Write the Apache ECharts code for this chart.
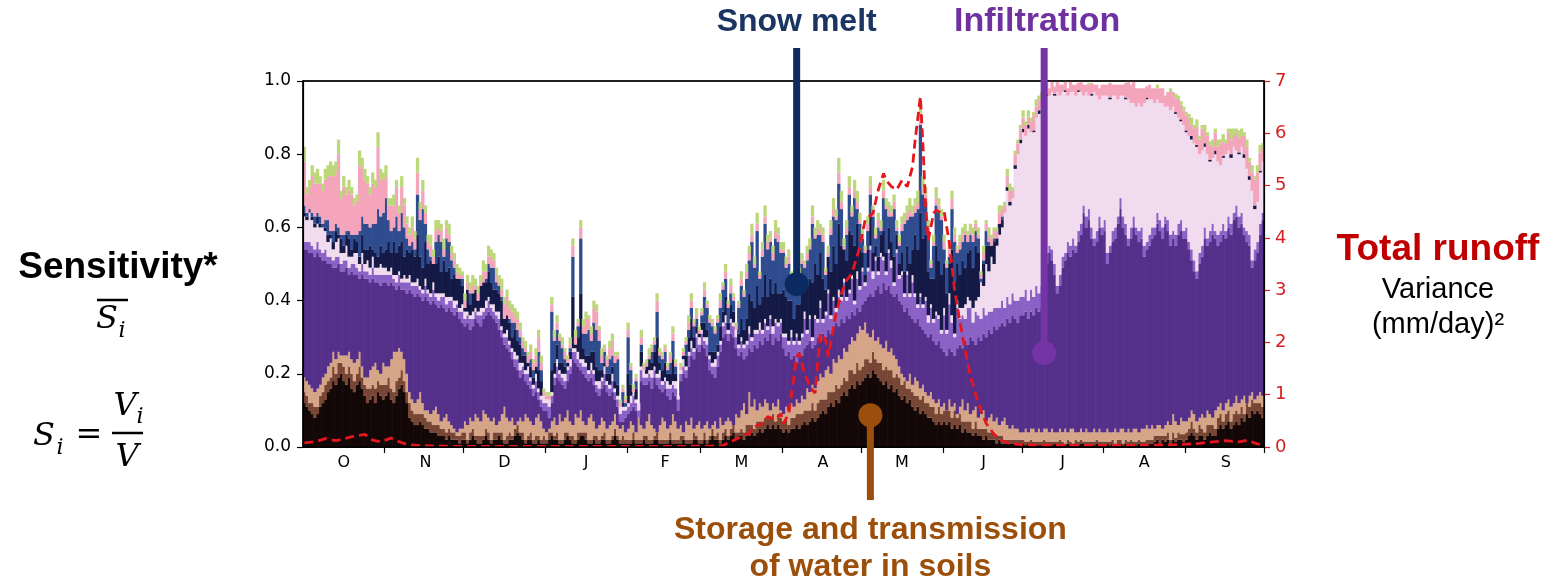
<!DOCTYPE html>
<html>
<head>
<meta charset="utf-8">
<script src="https://cdn.jsdelivr.net/npm/echarts@6/dist/echarts.min.js"></script>
<style>
html,body{margin:0;padding:0;background:#fff;}
#chart{width:1551px;height:583px;}
</style>
</head>
<body>
<div id="chart"></div>
<script>
// ---------- tick labels / categories ----------
const monthLetters = ['O','N','D','J','F','M','A','M','J','J','A','S'];
const monthLengths = [31,30,31,31,28,31,30,31,30,31,31,30];
const leftTicks = [0, 0.2, 0.4, 0.6, 0.8, 1.0];
const rightTicks = [0,1,2,3,4,5,6,7];

// ---------- sensitivity layers (hundredths), one value per day, Oct 1 .. Sep 30 ----------
// black (storage) : cumulative top
const blackTop = [
/*Oct*/12,11,10,9,8,9,11,12,13,15,16,18,17,19,20,18,17,19,16,15,17,18,16,14,12,13,14,12,15,14,13,
/*Nov*/14,15,13,12,14,16,17,15,12,8,7,6,6,7,6,5,5,4,4,4,3,3,3,2,3,2,2,2,1,2,
/*Dec*/2,1,2,3,2,1,1,2,3,2,1,2,2,3,2,1,1,2,2,3,4,3,2,1,2,2,1,1,2,1,1,
/*Jan*/1,2,3,2,2,1,1,2,3,2,1,1,2,3,3,2,1,1,2,1,1,2,2,1,1,2,3,2,1,1,1,
/*Feb*/1,1,2,1,1,1,2,1,1,1,2,2,1,1,1,1,2,1,1,1,1,2,1,1,1,2,2,1,
/*Mar*/1,2,1,2,3,2,2,1,2,3,2,3,4,2,3,3,2,4,3,4,3,4,5,4,5,6,5,6,5,6,5,
/*Apr*/4,5,4,5,5,6,5,6,7,6,7,8,7,8,9,10,9,11,12,11,13,12,14,15,14,16,17,16,18,17,
/*May*/18,19,20,19,21,20,19,18,17,18,16,17,15,16,14,13,14,12,13,11,10,11,9,10,9,8,8,7,6,7,6,
/*Jun*/7,6,7,5,6,5,6,4,5,4,4,3,4,3,3,2,3,2,2,2,1,2,1,1,1,1,1,1,1,1,
/*Jul*/1,0.5,1,1,0.5,1,0.5,0.5,1,1,0.5,0.5,1,0.5,1,0.5,0.5,1,0.5,0.5,1,0.5,1,1,0.5,0.5,1,0.5,1,0.5,1,
/*Aug*/0.5,1,0.5,1,0.5,1,1,0.5,1,0.5,1,1,0.5,1,1,0.5,1,1,1,1.5,2,1,2,1.5,2,1,2,1.5,2,2,1.5,
/*Sep*/2,3,4,3,2,3,3,2,3,4,3,3,5,6,5,6,7,5,6,7,6,8,7,9,8,10,9,10,9,8
];
// dark brown band (thickness)
const brownBand = [
/*Oct*/3,3,2,3,3,2,3,3,4,3,3,4,3,4,3,4,3,3,4,3,3,4,3,3,4,3,3,4,3,3,4,
/*Nov*/3,4,3,3,4,3,4,3,3,4,3,3,3,2,3,3,2,3,2,2,3,2,2,2,2,2,2,1,2,2,
/*Dec*/2,1,2,2,1,2,2,1,2,2,1,2,2,1,2,1,2,2,1,2,2,1,2,1,1,2,1,2,1,1,2,
/*Jan*/1,2,1,1,2,1,1,2,1,1,2,1,2,1,1,2,1,1,1,2,1,1,2,1,1,1,2,1,1,2,1,
/*Feb*/1,1,2,1,1,1,1,2,1,1,1,2,1,1,1,1,2,1,1,1,2,1,1,1,1,2,1,1,
/*Mar*/1,2,1,1,2,1,2,1,2,2,1,2,2,2,1,2,2,2,3,2,2,3,2,3,3,2,3,3,2,3,3,
/*Apr*/3,3,2,3,3,3,4,3,3,4,3,4,3,4,4,3,4,4,3,4,4,4,3,4,4,5,4,4,5,4,
/*May*/4,5,4,4,5,4,4,5,4,4,5,4,4,4,5,4,4,4,3,4,4,3,4,4,3,4,3,4,3,4,3,
/*Jun*/3,4,3,3,4,3,3,3,2,3,3,2,3,2,2,3,2,2,2,2,2,1,2,1,1,1,1,1,1,1,
/*Jul*/1,1,0.5,1,1,0.5,1,1,1,0.5,1,1,0.5,1,1,1,0.5,1,1,0.5,1,1,1,0.5,1,1,0.5,1,1,1,0.5,
/*Aug*/1,0.5,1,1,0.5,1,1,0.5,1,1,1,0.5,1,1,0.5,1,1,1,1,1.5,1,2,1,1.5,2,1,2,1,2,1.5,2,
/*Sep*/2,2,3,2,2,3,2,2,3,2,3,2,3,3,2,3,3,2,3,3,3,3,2,3,3,3,3,2,3,3
];
// tan : cumulative top
const tanTop = [
/*Oct*/19,18,17,16,15,16,17,19,20,22,23,26,24,26,25,25,25,26,24,23,24,26,22,19,19,21,22,23,21,20,23,
/*Nov*/22,22,24,26,26,27,26,24,20,15,13,12,13,15,12,10,10,9,10,11,9,7,8,9,7,6,5,4,5,5,
/*Dec*/7,6,8,7,9,8,7,10,9,8,7,8,6,7,9,11,8,7,8,6,7,8,7,9,8,7,6,8,9,7,5,
/*Jan*/4,5,7,8,6,9,7,8,10,7,6,9,8,10,7,6,8,9,7,5,6,8,7,5,6,7,9,6,5,6,4,
/*Feb*/5,7,6,4,8,6,5,7,9,6,5,4,6,8,7,5,6,9,7,5,6,4,7,6,8,5,6,7,
/*Mar*/5,6,7,5,6,7,5,8,6,7,8,7,6,9,8,10,12,9,15,11,13,10,12,11,13,12,10,12,11,13,10,
/*Apr*/9,11,10,12,11,13,12,14,13,16,15,17,16,18,20,19,21,22,20,24,23,25,24,27,26,28,30,29,31,33,
/*May*/32,34,31,30,32,29,30,28,27,29,26,27,25,24,22,20,19,18,20,17,19,18,16,17,15,14,15,13,12,13,11,
/*Jun*/12,10,13,11,12,9,11,13,10,12,9,10,11,8,9,10,7,8,9,7,8,6,7,8,6,5,6,5,5,4,
/*Jul*/4,5,4,5,5,4,5,4,5,5,4,5,4,4,5,4,5,4,5,5,4,4,5,4,5,4,4,5,4,5,4,
/*Aug*/4,5,4,4,5,4,5,5,4,5,4,5,5,4,5,5,6,5,6,5,6,6,5,6,7,6,9,7,6,8,7,
/*Sep*/7,8,10,9,7,8,9,8,10,9,8,10,11,12,10,12,13,11,12,14,12,13,14,12,14,15,13,14,15,14
];
// dark purple (infiltration) : cumulative top
const purpleTop = [
/*Oct*/54,54,53,53,52,53,52,51,51,50,50,49,49,50,48,48,49,47,48,47,47,46,47,46,46,45,46,45,45,44,45,
/*Nov*/45,44,45,44,43,44,43,43,42,43,42,41,42,41,40,41,40,39,40,39,38,39,38,37,38,37,36,37,35,34,
/*Dec*/33,34,32,33,35,34,33,35,36,37,36,35,34,32,30,28,27,26,24,22,21,19,20,18,17,16,14,15,13,11,10,
/*Jan*/10,8,12,17,19,18,17,16,18,20,24,23,22,21,20,19,18,19,17,15,14,16,17,15,14,15,13,11,7,7,8,
/*Feb*/9,10,11,10,8,18,17,17,18,16,19,17,16,15,16,14,13,15,14,10,18,20,19,22,25,24,27,26,
/*Mar*/28,27,25,21,20,19,22,26,30,31,29,31,30,27,25,26,24,25,27,26,28,27,29,28,30,29,31,28,30,29,31,
/*Apr*/27,25,26,24,25,23,26,25,27,28,29,27,28,30,29,31,30,32,31,33,34,33,35,34,36,35,37,36,38,37,
/*May*/39,40,41,42,41,43,44,42,45,43,44,42,41,42,40,39,37,38,36,35,34,35,33,32,31,30,31,29,28,29,27,
/*Jun*/26,25,27,26,25,27,28,27,29,28,30,29,28,30,29,31,30,32,31,33,32,33,34,33,35,34,36,35,34,36,
/*Jul*/36,37,35,37,36,38,37,38,45,50,53,51,47,42,44,49,51,53,52,54,53,56,58,64,60,62,57,55,56,60,58,
/*Aug*/59,50,53,56,57,61,65,60,58,55,57,60,58,56,57,52,54,55,57,58,61,59,57,61,59,55,57,55,58,59,57,
/*Sep*/57,54,51,48,46,50,52,57,55,56,58,57,55,56,58,57,60,58,62,63,60,61,58,56,55,49,51,53,58,62
];
// light purple band (thickness)
const lightPurpleBand = [
/*Oct*/2,2,3,2,2,3,2,2,3,2,2,2,3,2,2,3,2,2,2,3,2,2,3,2,2,2,3,2,2,3,2,
/*Nov*/2,3,2,2,2,3,2,2,3,2,2,3,2,2,2,3,2,2,3,2,2,2,3,2,2,3,2,2,2,3,
/*Dec*/2,2,3,2,2,2,3,2,2,3,2,2,2,3,2,2,3,2,2,2,3,2,2,2,3,2,2,3,2,2,2,
/*Jan*/2,3,2,2,3,2,2,2,3,2,2,3,2,2,2,3,2,2,3,2,2,2,3,2,2,3,2,2,2,3,2,
/*Feb*/2,2,3,2,2,3,2,2,2,3,2,2,3,2,2,2,3,2,2,3,2,2,2,3,2,2,3,2,
/*Mar*/3,2,3,3,2,3,3,2,3,3,2,3,3,3,2,3,3,3,4,3,3,4,3,3,4,3,4,3,4,4,3,
/*Apr*/3,5,2,6,3,7,2,5,8,3,6,2,7,4,9,3,6,10,4,7,3,8,5,11,4,7,9,3,8,6,
/*May*/9,4,7,12,5,8,3,10,6,4,9,7,3,11,6,8,4,9,5,10,7,3,8,6,9,4,7,5,8,6,4,
/*Jun*/10,6,12,8,5,11,7,9,6,10,8,5,9,6,6,7,6,5,6,5,6,5,6,5,6,5,6,5,6,5,
/*Jul*/5,6,5,6,5,6,5,6,3,3,2,3,3,2,3,3,2,3,3,3,2,3,3,2,3,3,3,2,3,3,2,
/*Aug*/3,3,2,3,3,2,3,3,3,2,3,3,2,3,3,3,2,3,3,2,3,3,3,2,3,3,2,3,3,3,2,
/*Sep*/3,2,3,3,2,3,3,3,2,3,3,2,3,3,3,2,3,3,2,3,3,3,2,3,3,2,3,3,3,2
];
// lavender band (thickness)
const lavenderBand = [
/*Oct*/7,6,8,7,6,5,6,7,5,4,5,3,4,5,3,2,4,3,2,3,4,2,3,2,3,2,3,2,2,3,2,
/*Nov*/2,1,2,1,2,1,1,2,1,2,1,1,2,1,1,2,1,1,2,1,2,1,1,2,1,1,2,1,1,2,
/*Dec*/2,1,1,2,1,1,2,1,2,1,1,2,1,2,1,1,2,1,1,2,1,2,1,1,2,1,1,2,1,1,2,
/*Jan*/1,2,1,1,2,1,1,2,1,2,1,1,2,1,2,1,1,2,1,1,2,1,2,1,1,2,1,1,2,1,1,
/*Feb*/1,2,1,1,2,1,2,1,1,2,1,1,2,1,1,2,1,1,2,1,1,2,1,1,2,1,1,2,
/*Mar*/1,1,2,1,1,2,1,1,1,2,1,1,1,2,1,1,1,1,2,1,1,1,2,1,1,1,1,2,1,1,1,
/*Apr*/1,1,1,2,1,1,1,1,2,1,1,1,1,1,2,1,1,1,1,1,1,2,1,1,1,1,1,1,2,1,
/*May*/1,1,1,1,2,1,1,1,1,1,1,2,1,1,1,1,1,1,1,2,1,1,1,1,1,2,1,1,1,1,1,
/*Jun*/2,1,3,2,1,2,3,2,4,3,2,4,3,5,10,6,14,11,15,12,17,20,20,26,29,27,26,36,40,42,
/*Jul*/45,42,47,43,45,46,49,49,47,43,41,43,46,53,49,45,44,40,42,40,41,38,36,30,34,31,36,40,37,32,36,
/*Aug*/34,43,40,37,36,32,28,33,34,38,34,31,33,35,33,39,39,37,35,34,31,32,34,30,31,34,34,33,29,27,29,
/*Sep*/26,29,30,32,34,27,26,22,23,19,18,21,20,18,18,21,18,18,18,15,17,18,19,17,15,19,11,11,14,14
];
// navy (snow melt) band (thickness)
const navyBand = [
/*Oct*/1,1,0,1,1,2,1,0,1,2,1,2,3,1,4,2,3,5,2,4,3,2,5,4,3,6,2,4,3,5,4,
/*Nov*/5,8,4,9,6,7,10,5,8,6,9,7,12,8,6,10,7,9,5,8,10,6,9,7,8,5,7,6,8,5,
/*Dec*/1,6,3,5,5,3,6,7,5,7,6,4,6,5,7,4,4,5,3,6,4,5,2,4,1,3,2,2,5,4,0,
/*Jan*/0,0,6,3,4,2,3,2,1,2,14,1,4,18,3,2,4,3,5,4,3,2,1,2,3,2,2,3,0,1,0,
/*Feb*/8,3,0,3,0,4,0,2,3,2,4,10,2,3,4,2,3,6,2,0,0,1,3,4,6,3,2,1,
/*Mar*/2,4,2,1,3,2,2,4,3,5,2,4,3,0,3,5,4,6,9,10,6,12,5,9,12,8,10,9,10,8,7,
/*Apr*/12,10,11,8,6,8,10,11,9,12,10,15,14,12,13,11,6,9,12,14,12,18,14,8,10,16,11,15,13,10,
/*May*/4,2,5,8,5,3,4,5,7,5,6,5,7,4,3,5,6,7,8,7,16,15,22,18,17,12,7,11,18,15,15,
/*Jun*/12,10,8,18,14,10,9,13,10,12,14,11,15,12,0,6,5,7,3,6,2,3,2,0,1,1,0,1,0,1,
/*Jul*/1,0,1,0,0.5,0,1,0,0,0.5,0,0,0.5,0,0,0,0.5,0,0,0,0,0.5,0,0,0,0,0.5,0,0,0,0,
/*Aug*/0,0,0.5,0,0,0,0,0,0.5,0,0,0,0,0,0,0,0.5,0,0,0,0,0,0,0,0,0,0,0.5,0,0.5,0,
/*Sep*/0.5,0,1,0,0.5,0,0,1,0,0.5,0,1,0,0,0.5,0,0,1,0,0,0.5,0,1,0,1,0,1,0,0.5,0
];
// pink band (thickness)
const pinkBand = [
/*Oct*/12,5,6,10,9,8,9,9,11,12,15,15,14,20,10,13,10,11,11,8,9,18,13,12,11,9,11,10,17,10,9,
/*Nov*/6,4,7,6,8,5,7,6,4,3,4,3,6,3,5,3,2,3,2,3,2,3,2,3,2,2,2,2,1,1,
/*Dec*/2,2,1,2,1,2,1,3,2,2,3,2,2,1,2,4,5,3,3,2,3,2,2,1,2,2,2,3,4,2,1,
/*Jan*/1,1,2,1,2,1,1,2,1,1,3,2,1,3,2,4,3,2,4,5,3,2,1,2,3,4,2,1,1,1,1,
/*Feb*/2,1,1,1,0,2,1,1,1,1,1,3,1,1,1,1,2,2,1,0,1,1,1,2,2,1,1,1,
/*Mar*/1,2,1,1,1,1,1,2,1,2,1,2,1,1,1,2,1,2,2,2,1,2,1,2,2,2,1,2,2,2,1,
/*Apr*/1,1,2,1,1,1,2,1,1,2,1,2,1,2,1,2,1,1,2,2,1,3,2,1,2,2,1,2,2,1,
/*May*/1,1,2,2,1,1,2,1,2,1,2,1,2,1,1,2,1,2,2,1,2,2,3,2,2,1,1,1,2,2,1,
/*Jun*/2,1,2,3,2,1,2,2,1,2,1,2,2,1,1,2,2,2,2,2,2,3,2,2,3,3,2,3,3,3,
/*Jul*/3,3,2,3,4,3,3,2,3,3,2,3,2,3,3,2,3,2,3,2,3,2,3,3,2,3,3,2,3,3,3,
/*Aug*/3,3,4,3,3,4,3,3,4,5,5,6,5,4,5,4,3,4,3,4,3,4,4,3,4,5,4,4,5,4,4,
/*Sep*/4,5,3,4,5,4,6,3,5,4,3,5,4,6,4,3,5,4,3,5,4,3,5,6,4,5,7,8,5,4
];
// light green band (thickness)
const greenBand = [
/*Oct*/4,2,2,3,3,4,2,2,3,3,4,3,3,4,2,3,2,3,2,2,2,4,3,3,2,2,3,2,4,3,2,
/*Nov*/3,2,2,3,2,2,3,2,2,2,3,2,4,2,3,2,2,3,2,3,2,2,3,2,3,2,2,2,2,1,
/*Dec*/2,2,2,3,2,2,2,3,2,3,2,2,2,2,3,2,2,2,2,2,2,2,1,2,1,2,1,2,2,2,1,
/*Jan*/1,1,2,2,2,1,2,1,1,2,2,2,1,2,2,2,1,2,2,2,1,2,1,1,2,2,1,1,1,1,1,
/*Feb*/2,1,1,1,0,2,1,1,2,1,1,2,1,1,1,1,1,2,1,0,1,1,1,2,2,1,2,1,
/*Mar*/1,2,1,1,1,1,1,2,1,2,1,2,1,1,1,2,1,2,2,3,2,3,1,2,3,2,2,2,3,2,2,
/*Apr*/2,2,2,1,1,2,2,2,1,2,2,3,2,2,2,2,1,2,2,3,2,4,3,2,2,3,2,3,3,2,
/*May*/2,1,2,3,2,2,2,2,3,2,2,2,2,2,2,2,2,2,3,2,2,3,4,3,2,2,1,2,3,2,2,
/*Jun*/2,1,2,2,2,1,2,2,2,1,2,2,1,2,1,2,1,2,1,1,1,2,1,1,2,2,1,1,1,1,
/*Jul*/2,1,2,1,1,2,1,2,1,0,0,0.5,0,0,0,0,0,0,0.5,0,0,0,0,0,0,0.5,0,0,0,0,0,
/*Aug*/0,0,0,0,0,0,0,0,0,0,0,0,0,0,0,0,0,0,0,0,1,0,0,0,0,1,0,1,1,1,1,
/*Sep*/1,1,2,1,2,1,1,2,1,1,2,1,2,1,2,1,1,3,2,1,2,2,1,2,1,2,1,2,2,1
];
// total sensitivity (top of each bar)
const totalTop = [
/*Oct*/82,71,73,77,75,76,74,72,76,77,78,77,78,84,70,74,71,73,71,68,69,81,79,76,74,71,75,73,86,76,75,
/*Nov*/77,68,68,69,73,66,74,68,63,60,63,59,79,67,73,66,58,58,53,62,62,61,57,62,61,55,53,50,49,48,
/*Dec*/42,47,45,47,46,44,47,51,50,55,54,53,49,47,46,41,43,40,39,38,37,34,30,29,26,28,24,27,32,25,16,
/*Jan*/14,13,41,32,36,31,30,27,25,30,57,32,35,62,35,37,36,33,40,39,33,27,28,25,29,31,26,26,13,17,14,
/*Feb*/34,23,17,20,12,32,23,24,27,28,30,42,27,26,28,23,26,33,24,14,22,26,30,36,42,35,38,33,
/*Mar*/38,45,40,36,35,33,36,42,45,50,40,46,42,33,40,48,43,50,55,61,52,64,48,56,66,58,59,55,62,60,56,
/*Apr*/56,52,54,48,44,47,49,53,51,55,57,66,60,62,61,60,49,55,62,68,65,79,70,56,62,74,66,73,70,64,
/*May*/60,55,63,74,66,60,64,62,73,68,67,66,69,62,58,63,64,66,68,66,68,70,95,74,71,62,51,58,71,68,65,
/*Jun*/58,51,56,70,60,55,58,60,61,59,61,60,62,60,48,55,62,60,58,60,60,64,66,65,76,72,70,80,84,87,
/*Jul*/92,89,92,90,91,95,96,97,99,99,98,100,98,100,99,99,100,98,100,99,99,99,100,99,99,99,99,99,99,98,99,
/*Aug*/99,99,99,99,99,99,99,99,99,100,99,100,98,98,98,98,98,99,98,98,99,98,98,96,97,98,97,96,96,94,93,
/*Sep*/91,91,90,88,89,85,88,88,86,83,84,87,84,84,85,84,87,87,87,87,86,87,86,84,79,77,74,77,82,83
];

// ---------- total runoff variance (right axis), read at selected days ----------
const runoffDay = [0,4,8,12,16,19,23,26,29,33,36,39,43,50,60,80,100,120,140,155,159,162,166,169,171,174,176,179,181,
  182,184,187,188,190,192,194,196,198,199,202,204,206,208,211,213,216,218,220,221,223,225,227,229,231,232,234,235,236,237,239,240,242,
  243,245,247,249,251,253,255,257,259,262,265,268,273,290,310,330,340,345,350,355,358,362,364];
const runoffVar = [0.08,0.1,0.16,0.12,0.17,0.21,0.24,0.13,0.1,0.17,0.1,0.05,0.03,0.02,0.01,0.01,0.01,0.01,0.01,0.02,0.03,0.1,0.2,0.26,0.39,0.45,0.58,0.52,0.64,
  0.45,0.64,1.73,1.79,1.41,1.15,1.03,2.17,2.05,1.73,2.56,2.94,3.19,3.32,3.83,4.34,4.47,4.92,5.23,5.1,4.98,4.92,5.1,4.98,5.36,5.87,6.7,5.74,4.6,3.95,4.47,4.53,4.47,
  4.5,3.9,3.0,2.4,1.85,1.35,1.0,0.7,0.45,0.24,0.12,0.07,0.04,0.03,0.03,0.04,0.07,0.1,0.12,0.1,0.13,0.06,0.05];

// ---------- build ----------
const N = 365;
const days = Array.from({length: N}, (_, i) => String(i));
const arrays = {blackTop, brownBand, tanTop, purpleTop, lightPurpleBand, lavenderBand, navyBand, pinkBand, greenBand, totalTop};
Object.keys(arrays).forEach(k => { if (arrays[k].length !== N) console.error('length mismatch', k, arrays[k].length); });

const layerNames = ['black','brown','tan','purple','lightPurple','lavender','navy','blue','pink','green'];
const layerColors = {
  black:'#140707', brown:'#774634', tan:'#d6a587', purple:'#55308a', lightPurple:'#8a62c6',
  lavender:'#f1dcef', navy:'#141a45', blue:'#2f4c8f', pink:'#f4a5bb', green:'#bcd87a'
};
const layerData = {};
layerNames.forEach(n => layerData[n] = []);
for (let i = 0; i < N; i++) {
  let c = 0;
  const put = (n, v) => { v = Math.max(0, v || 0); layerData[n].push(+(v / 100).toFixed(4)); c += v; };
  put('black', blackTop[i]);
  put('brown', brownBand[i]);
  put('tan', tanTop[i] - c);
  put('purple', purpleTop[i] - c);
  put('lightPurple', lightPurpleBand[i]);
  put('lavender', lavenderBand[i]);
  put('navy', navyBand[i]);
  put('blue', totalTop[i] - pinkBand[i] - greenBand[i] - c);
  put('pink', pinkBand[i]);
  put('green', greenBand[i]);
}

const monthStarts = new Set();
const monthMid = {};
let acc = 0;
monthLengths.forEach((len, k) => { if (acc > 0) monthStarts.add(acc); monthMid[acc + Math.floor(len / 2)] = monthLetters[k]; acc += len; });

const barSeries = layerNames.map(n => ({
  name: n, type: 'bar', stack: 'sens', data: layerData[n],
  barWidth: 3.3, barCategoryGap: '0%',
  itemStyle: {color: layerColors[n]},
  emphasis: {disabled: true}, silent: true, z: 2
}));

const runoffSeries = {
  name: 'runoff', type: 'line', yAxisIndex: 1,
  data: runoffDay.map((d, k) => [d, runoffVar[k]]),
  symbol: 'none', smooth: false, silent: true, z: 5,
  lineStyle: {color: '#e5161d', width: 2.8, type: [9, 5]}
};

const chart = echarts.init(document.getElementById('chart'), null, {renderer: 'canvas'});
chart.setOption({
  animation: false,
  backgroundColor: '#ffffff',
  textStyle: {fontFamily: 'DejaVu Sans'},
  grid: {left: 303, right: 287, top: 81, bottom: 136, show: true, borderColor: '#000', borderWidth: 1.2,
         backgroundColor: 'rgba(0,0,0,0)', containLabel: false, outerBoundsMode: 'none'},
  xAxis: [{
    type: 'category', data: days, boundaryGap: true, z: 10,
    axisLine: {show: true, lineStyle: {color: '#000', width: 1.2}},
    axisTick: {show: true, length: 6, alignWithLabel: false, interval: (i) => monthStarts.has(i), lineStyle: {color: '#000', width: 1.2}},
    axisLabel: {show: true, interval: (i) => monthMid[i] !== undefined, formatter: (v, i) => monthMid[i] || '',
                color: '#000', fontSize: 16, fontFamily: 'DejaVu Sans', margin: 8},
    splitLine: {show: false}
  }],
  yAxis: [{
    type: 'value', min: 0, max: 1, interval: 0.2, z: 10,
    axisLine: {show: true, lineStyle: {color: '#000', width: 1.2}},
    axisTick: {show: true, length: 6, lineStyle: {color: '#000', width: 1.2}},
    axisLabel: {formatter: v => v.toFixed(1), color: '#000', fontSize: 17, fontFamily: 'DejaVu Sans', margin: 12},
    splitLine: {show: false}
  }, {
    type: 'value', min: 0, max: 7, interval: 1, position: 'right', z: 10,
    axisLine: {show: true, lineStyle: {color: '#000', width: 1.2}},
    axisTick: {show: true, length: 6, lineStyle: {color: '#d71f1f', width: 1.2}},
    axisLabel: {color: '#d71f1f', fontSize: 18, fontFamily: 'DejaVu Sans', margin: 11},
    splitLine: {show: false}
  }],
  series: barSeries.concat([runoffSeries])
});

// ---------- annotations (pins positioned through the axes) ----------
const px = (d, v) => chart.convertToPixel({xAxisIndex: 0, yAxisIndex: 0}, [d, v]);
const pins = [
  {day: 187, head: 0.445, tail: 1.09, color: '#0c2a62'},
  {day: 281, head: 0.257, tail: 1.09, color: '#7534a6'},
  {day: 215, head: 0.087, tail: -0.145, color: '#9b4f0d'}
];
const g = [];
// plot frame from the axis extents
const rectGrid = chart.getModel().getComponent('grid', 0).coordinateSystem.getRect();
g.push({type: 'rect', z: 60, shape: {x: rectGrid.x, y: rectGrid.y, width: rectGrid.width, height: rectGrid.height},
        style: {fill: null, stroke: '#000', lineWidth: 1.3}, silent: true});
pins.forEach(p => {
  const a = px(p.day, p.head), b = px(p.day, p.tail);
  g.push({type: 'line', z: 100, shape: {x1: a[0], y1: a[1], x2: b[0], y2: b[1]}, style: {stroke: p.color, lineWidth: 7}});
  g.push({type: 'circle', z: 101, shape: {cx: a[0], cy: a[1], r: 12}, style: {fill: p.color}});
});
const txt = (x, y, text, font, fill) => ({type: 'text', z: 102, x: x, y: y,
  style: {text: text, font: font, fill: fill, align: 'center', verticalAlign: 'middle', textAlign: 'center', textVerticalAlign: 'middle'}});
const sn = px(187, 0), inf = px(281, 0), st = px(215, 0);
g.push(txt(sn[0], 22, 'Snow melt', 'bold 32px "Liberation Sans", Arial, sans-serif', '#1b3461'));
g.push(txt(inf[0] - 7, 22, 'Infiltration', 'bold 34px "Liberation Sans", Arial, sans-serif', '#7030a0'));
g.push(txt(st[0], 530, 'Storage and transmission', 'bold 32px "Liberation Sans", Arial, sans-serif', '#9c4f0b'));
g.push(txt(st[0], 567, 'of water in soils', 'bold 32px "Liberation Sans", Arial, sans-serif', '#9c4f0b'));
g.push(txt(1438, 250, 'Total runoff', 'bold 37px "Liberation Sans", Arial, sans-serif', '#c00000'));
g.push(txt(1438, 290, 'Variance', '29px "Liberation Sans", Arial, sans-serif', '#000'));
g.push(txt(1438, 325, '(mm/day)\u00b2', '29px "Liberation Sans", Arial, sans-serif', '#000'));
g.push(txt(118, 268, 'Sensitivity*', 'bold 37px "Liberation Sans", Arial, sans-serif', '#000'));
// S-bar_i
g.push(txt(107, 320, 'S', 'italic 32px "DejaVu Serif", serif', '#000'));
g.push(txt(122, 331, 'i', 'italic 22px "DejaVu Serif", serif', '#000'));
g.push({type: 'line', z: 102, shape: {x1: 97, y1: 300, x2: 128, y2: 300}, style: {stroke: '#000', lineWidth: 2.5}});
// S_i = V_i / V
g.push(txt(44, 437, 'S', 'italic 32px "DejaVu Serif", serif', '#000'));
g.push(txt(60, 448, 'i', 'italic 22px "DejaVu Serif", serif', '#000'));
g.push(txt(89, 436, '=', '32px "DejaVu Serif", serif', '#000'));
g.push({type: 'line', z: 102, shape: {x1: 112, y1: 433, x2: 143, y2: 433}, style: {stroke: '#000', lineWidth: 2.5}});
g.push(txt(125, 407, 'V', 'italic 32px "DejaVu Serif", serif', '#000'));
g.push(txt(140, 417, 'i', 'italic 22px "DejaVu Serif", serif', '#000'));
g.push(txt(127, 458, 'V', 'italic 32px "DejaVu Serif", serif', '#000'));
chart.setOption({graphic: {elements: g}});
</script>
</body>
</html>
